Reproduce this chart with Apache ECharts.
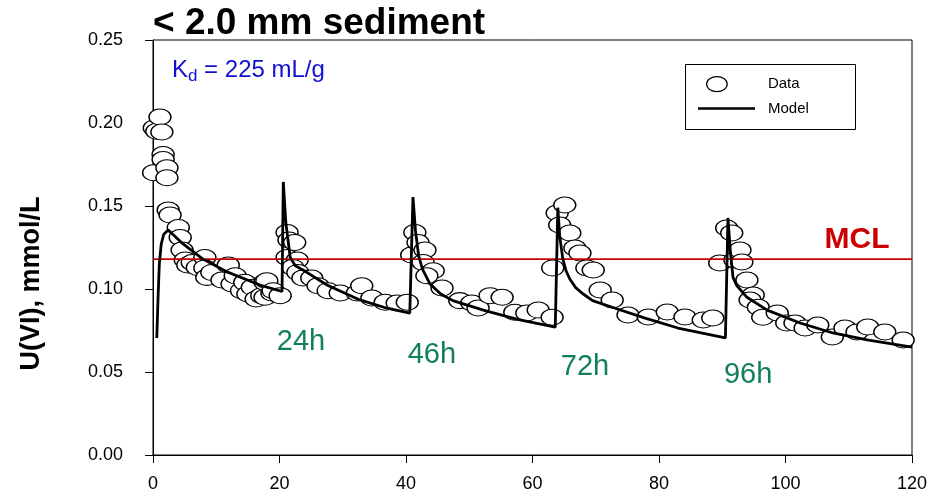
<!DOCTYPE html>
<html>
<head>
<meta charset="utf-8">
<script src="https://cdn.jsdelivr.net/npm/echarts@6/dist/echarts.min.js"></script>
<style>html,body{margin:0;padding:0;background:#fff}#c{width:932px;height:493px}</style>
</head>
<body>
<div id="c"></div>
<script>
// ---- Data (hours, U(VI) mmol/L) ----
const dataT = [0.2,0.6,1.1,1.4,0.1,1.6,1.6,2.2,2.2,2.4,2.7,4.0,4.3,4.6,5.1,5.5,6.2,7.0,8.2,8.2,8.5,9.3,10.9,11.9,12.5,13.0,14.0,14.5,15.0,15.7,16.3,17.2,17.7,17.7,18.0,18.8,19.0,20.1,
  21.2,21.5,21.2,22.4,22.8,22.1,22.9,23.7,25.1,26.1,27.7,29.6,32.3,33.0,34.6,36.7,38.6,40.2,
  40.9,41.4,41.9,43.0,42.7,44.3,43.3,45.7,48.5,50.4,51.4,53.3,55.2,57.2,59.1,60.9,63.1,
  63.2,63.9,65.1,64.3,65.9,66.7,67.5,68.6,69.6,70.7,72.6,75.1,78.3,81.3,84.1,87.0,88.5,
  89.6,90.7,91.5,92.0,92.8,93.1,93.9,94.9,94.4,95.7,96.4,98.7,100.2,101.5,103.1,105.1,107.4,109.4,111.3,113.0,115.7,118.6];
const dataU = [0.197,0.195,0.2036,0.1946,0.170,0.181,0.178,0.173,0.167,0.1476,0.1446,0.137,0.131,0.1235,0.1175,0.1145,0.116,0.113,0.119,0.1127,0.107,0.110,0.1054,0.1145,0.103,0.108,0.099,0.104,0.097,0.101,0.094,0.096,0.104,0.095,0.105,0.0976,0.099,0.096,
  0.134,0.1295,0.119,0.128,0.1175,0.113,0.110,0.1066,0.1066,0.102,0.099,0.0976,0.0976,0.102,0.0946,0.092,0.0916,0.092,
  0.1205,0.134,0.128,0.1235,0.116,0.111,0.108,0.1006,0.093,0.0916,0.0886,0.096,0.095,0.086,0.0855,0.0873,0.083,
  0.1127,0.1458,0.1506,0.1386,0.1337,0.1247,0.1217,0.1127,0.1114,0.0994,0.0934,0.0843,0.0831,0.0861,0.0831,0.0813,0.0825,
  0.1157,0.1367,0.1337,0.1175,0.1235,0.1163,0.1054,0.0964,0.0934,0.089,0.083,0.0855,0.0795,0.0795,0.0765,0.0783,0.0711,0.0765,0.0741,0.0771,0.0741,0.0693];

const modelT = [0.6,0.8,1.0,1.3,1.7,2.4,4.5,7.9,11.9,17.2,20.4,
  20.6,21.0,21.7,22.5,23.7,27.5,32.7,36.5,40.6,
  41.1,41.5,42.0,42.6,43.8,45.5,47.4,52.5,57.8,63.6,
  64.0,64.3,64.8,65.3,65.9,66.8,67.8,69.5,72.6,77.8,83.0,90.5,
  90.9,91.3,91.7,92.3,93.9,97.1,102.3,107.5,112.9,120];
const modelU = [0.0705,0.095,0.115,0.127,0.133,0.1355,0.128,0.118,0.110,0.102,0.0985,
  0.1645,0.140,0.119,0.114,0.1115,0.1024,0.0934,0.089,0.0855,
  0.1554,0.135,0.120,0.112,0.103,0.097,0.093,0.087,0.0815,0.077,
  0.149,0.132,0.118,0.111,0.106,0.101,0.0976,0.093,0.089,0.0825,0.0765,0.0705,
  0.1428,0.122,0.107,0.102,0.095,0.0873,0.0795,0.0735,0.0693,0.065];

const mclValue = 0.118;
const xTicks = [0,20,40,60,80,100,120];
const yTicks = [0.00,0.05,0.10,0.15,0.20,0.25];

const timeLabels = ['24h','46h','72h','96h'];
const timeLabelX = [23.4,44.1,68.3,94.1];
const timeLabelY = [0.068,0.0602,0.053,0.048];

const titleText = '< 2.0 mm sediment';
const yAxisTitle = 'U(VI), mmol/L';
const kdX = 3.0, kdY = 0.232;
const mclLabelX = 111.3, mclLabelY = 0.1295;

const FONT = 'Liberation Sans, Arial, Helvetica, sans-serif';
const GREEN = '#11805a';
const RED = '#cc0000';
const BLUE = '#1010d0';

const chart = echarts.init(document.getElementById('c'), null, {renderer:'canvas'});
const labelSeries = (name, data, label) => ({
  name, type:'scatter', symbolSize:0, silent:true, z:5,
  itemStyle:{opacity:1}, data, label:Object.assign({show:true, opacity:1}, label),
  emphasis:{disabled:true}
});
chart.setOption({
  animation:false,
  backgroundColor:'#fff',
  textStyle:{fontFamily:FONT},
  title:{text:titleText,left:148,top:0,textStyle:{fontSize:37,fontWeight:'bold',color:'#000',fontFamily:FONT}},
  grid:{left:153,right:20,top:40,bottom:38,show:true,borderColor:'#000',borderWidth:1,backgroundColor:'transparent'},
  graphic:[{type:'rect',left:683,top:62,shape:{width:170,height:65},style:{fill:'none',stroke:'#000',lineWidth:1},z:1}],
  legend:[
    {data:[{name:'Data',icon:'path://M0,8 A11,8 0 1 1 22,8 A11,8 0 1 1 0,8 Z'}],left:706,top:76,padding:0,itemWidth:22,itemHeight:15,
     itemStyle:{color:'#fff',borderColor:'#000',borderWidth:1.2},
     textStyle:{fontSize:15,color:'#000',fontFamily:FONT,padding:[0,0,0,35]}},
    {data:[{name:'Model',icon:'rect'}],left:698,top:101,padding:0,itemWidth:57,itemHeight:2.5,
     itemStyle:{color:'#000',borderWidth:0},
     textStyle:{fontSize:15,color:'#000',fontFamily:FONT,padding:[0,0,0,8]}}
  ],
  xAxis:{type:'value',min:xTicks[0],max:xTicks[xTicks.length-1],interval:20,
    axisLine:{lineStyle:{color:'#000',width:1}},
    axisTick:{show:true,length:8,lineStyle:{color:'#000'}},
    axisLabel:{fontSize:18,color:'#000',margin:20,fontFamily:FONT},
    splitLine:{show:false}},
  yAxis:{type:'value',min:yTicks[0],max:yTicks[yTicks.length-1],interval:0.05,
    name:yAxisTitle,nameLocation:'middle',nameGap:108,
    nameTextStyle:{fontSize:27,fontWeight:'bold',color:'#000',fontFamily:FONT,padding:[0,72,0,0]},
    axisLine:{show:true,lineStyle:{color:'#000',width:1}},
    axisTick:{show:true,length:8,lineStyle:{color:'#000'}},
    axisLabel:{fontSize:18,color:'#000',margin:30,fontFamily:FONT,formatter:v=>v.toFixed(2)},
    splitLine:{show:false}},
  series:[
    {name:'Data',type:'scatter',symbol:'circle',symbolSize:[22,16],
     itemStyle:{color:'#fff',borderColor:'#000',borderWidth:1.2,opacity:1},
     data:dataT.map((t,i)=>[t,dataU[i]]),z:2,silent:true},
    {name:'Model',type:'line',symbol:'none',showSymbol:false,
     lineStyle:{color:'#000',width:2.8},itemStyle:{color:'#000'},
     data:modelT.map((t,i)=>[t,modelU[i]]),z:4,silent:true},
    {name:'MCL',type:'line',symbol:'none',lineStyle:{color:RED,width:1.8},
     data:[[xTicks[0],mclValue],[xTicks[xTicks.length-1],mclValue]],z:3,silent:true},
    labelSeries('timeLabels', timeLabels.map((s,i)=>({name:s,value:[timeLabelX[i],timeLabelY[i]]})),
      {position:'inside',formatter:'{b}',fontSize:29,color:GREEN,fontFamily:FONT}),
    labelSeries('mclLabel', [{name:'MCL',value:[mclLabelX,mclLabelY]}],
      {position:'inside',formatter:'{b}',fontSize:30,fontWeight:'bold',color:RED,fontFamily:FONT}),
    labelSeries('kd', [{name:'Kd',value:[kdX,kdY]}],
      {position:'right',distance:0,formatter:'{k|K}{d|d}{k| = 225 mL/g}',
       rich:{k:{fontSize:24,color:BLUE,fontFamily:FONT},
             d:{fontSize:17,color:BLUE,fontFamily:FONT,verticalAlign:'bottom',padding:[12,0,0,0]}}})
  ]
});
</script>
</body>
</html>
